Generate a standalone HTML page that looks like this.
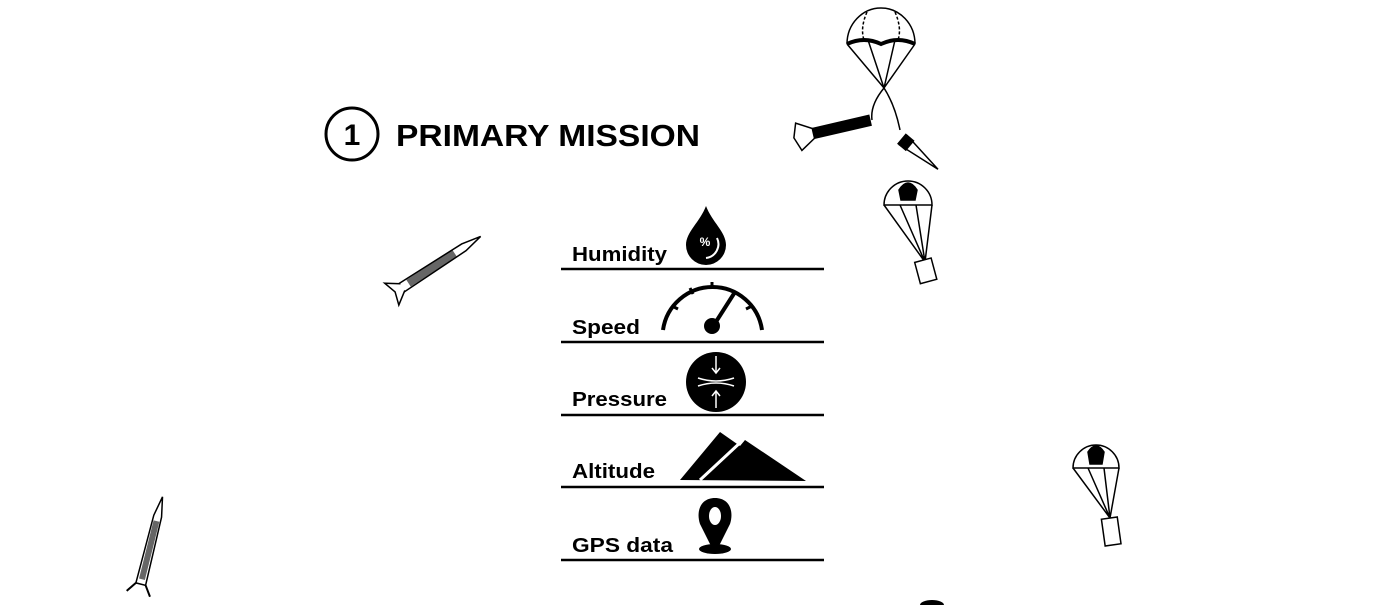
<!DOCTYPE html>
<html><head><meta charset="utf-8"><style>
html,body{margin:0;padding:0;background:#fff;width:1376px;height:605px;overflow:hidden}
svg{display:block}
text{font-family:"Liberation Sans",Arial,sans-serif;font-weight:bold;fill:#000}
</style></head><body>
<svg width="1376" height="605" viewBox="0 0 1376 605">
<g>
<circle cx="352" cy="134" r="26" fill="none" stroke="#000" stroke-width="3"/>
<text x="352" y="145" text-anchor="middle" font-size="30">1</text>
<text x="396" y="146" font-size="31" textLength="304" lengthAdjust="spacingAndGlyphs">PRIMARY MISSION</text>
</g>
<g stroke="#000" stroke-width="2.5">
<line x1="561" y1="269" x2="824" y2="269"/><line x1="561" y1="342" x2="824" y2="342"/>
<line x1="561" y1="415" x2="824" y2="415"/><line x1="561" y1="487" x2="824" y2="487"/>
<line x1="561" y1="560" x2="824" y2="560"/>
</g>
<g font-size="20">
<text x="572" y="261" textLength="95" lengthAdjust="spacingAndGlyphs">Humidity</text>
<text x="572" y="334" textLength="68" lengthAdjust="spacingAndGlyphs">Speed</text>
<text x="572" y="406" textLength="95" lengthAdjust="spacingAndGlyphs">Pressure</text>
<text x="572" y="478" textLength="83" lengthAdjust="spacingAndGlyphs">Altitude</text>
<text x="572" y="552" textLength="101" lengthAdjust="spacingAndGlyphs">GPS data</text>
</g>
<g>
<path d="M706,206 C700,222 686,232 686,245 A20,20 0 0 0 726,245 C726,232 712,222 706,206Z" fill="#000"/>
<path d="M717,238 A14,14 0 0 1 706,258" fill="none" stroke="#fff" stroke-width="2"/>
<text x="705" y="246" font-size="12" text-anchor="middle" style="fill:#fff">%</text>
</g>
<g fill="none" stroke="#000" stroke-width="4">
<path d="M663,330 A50,50 0 0 1 762,330"/>
<path d="M712,328 L735,292" stroke-width="4"/><circle cx="712" cy="326" r="6" fill="#000"/>
<g stroke-width="3"><line x1="672" y1="306" x2="678" y2="309"/><line x1="690" y1="288" x2="693" y2="294"/><line x1="712" y1="282" x2="712" y2="288"/><line x1="752" y1="306" x2="746" y2="309"/></g>
</g>
<g>
<circle cx="716" cy="382" r="30" fill="#000"/>
<g stroke="#fff" stroke-width="1.5" fill="none">
<path d="M698,378 Q716,384 734,378"/><path d="M698,386 Q716,380 734,386"/>
<line x1="716" y1="356" x2="716" y2="372"/><line x1="716" y1="392" x2="716" y2="408"/>
<path d="M712,368 L716,373 L720,368"/><path d="M712,396 L716,391 L720,396"/>
</g></g>
<g>
<path d="M680,480 L720,432 L740,446 L745,440 L806,481 Z" fill="#000"/>
<path d="M700,480 L743,440" stroke="#fff" stroke-width="3"/>
</g>
<g>
<path d="M715,498 C700,498 696,512 700,524 L712,548 L718,548 L730,524 C734,512 730,498 715,498Z" fill="#000"/>
<ellipse cx="715" cy="516" rx="6" ry="9" fill="#fff"/>
<ellipse cx="715" cy="549" rx="16" ry="5" fill="#000"/>
</g>
<g transform="translate(432,268) rotate(-33)">
<path d="M-40,-5 L38,-4 L58,0 L38,4 L-40,5Z" fill="#fff" stroke="#000" stroke-width="1.5"/>
<rect x="-28" y="-4" width="55" height="8" fill="#000" opacity="0.6"/>
<path d="M-35,-4 L-48,-13 L-44,0 L-48,13 L-35,4" fill="#fff" stroke="#000" stroke-width="1.5"/>
</g>
<g transform="translate(148,555) rotate(-76)">
<path d="M-30,-5 L40,-4 L60,0 L40,4 L-30,5Z" fill="#fff" stroke="#000" stroke-width="1.5"/>
<rect x="-25" y="-3" width="60" height="6" fill="#000" opacity="0.6"/>
<path d="M-30,-5 L-40,-12 M-30,5 L-40,12" stroke="#000" stroke-width="2"/>
</g>
<g fill="none" stroke="#000" stroke-width="1.5">
<path d="M847,44 A34,36 0 0 1 915,44"/>
<path d="M847,44 Q864,36 881,44 Q898,36 915,44" stroke-width="4"/>
<path d="M867,12 Q860,28 864,40 M895,12 Q902,28 898,40" stroke-dasharray="3,2"/>
<path d="M847,44 L884,88 M868,40 L884,88 M895,40 L884,88 M915,44 L884,88"/>
<path d="M884,88 Q870,105 872,120 M884,88 Q895,105 900,130"/>
<g transform="translate(828,130) rotate(-13)"><rect x="-15" y="-5" width="58" height="10" fill="#000"/><path d="M-15,-5 L-30,-14 L-35,0 L-30,14 L-15,5Z" fill="#fff"/></g>
<g transform="translate(915,150) rotate(40)"><path d="M-15,-6 L30,0 L-15,6Z" fill="#fff"/><rect x="-17" y="-6" width="10" height="12" fill="#000"/></g>
</g>
<g fill="none" stroke="#000" stroke-width="1.5">
<path d="M884,205 A24,24 0 0 1 932,205 Z"/><path d="M899,190 Q908,176 917,190 L915,200 L901,200Z" fill="#000"/>
<path d="M884,205 L925,262 M900,205 L925,262 M916,205 L925,262 M932,205 L925,262"/>
<rect x="917" y="260" width="17" height="22" transform="rotate(-15 925 270)" fill="#fff"/>
</g>
<g fill="none" stroke="#000" stroke-width="1.5">
<path d="M1073,468 A23,23 0 0 1 1119,468 Z"/><path d="M1088,452 Q1096,440 1104,452 L1102,464 L1090,464Z" fill="#000"/>
<path d="M1073,468 L1110,518 M1088,468 L1110,518 M1104,468 L1110,518 M1119,468 L1110,518"/>
<rect x="1103" y="518" width="16" height="27" transform="rotate(-8 1111 530)" fill="#fff"/>
</g>
<path d="M920,605 A12,5 0 0 1 944,605" fill="#000"/>
</svg>
</body></html>
